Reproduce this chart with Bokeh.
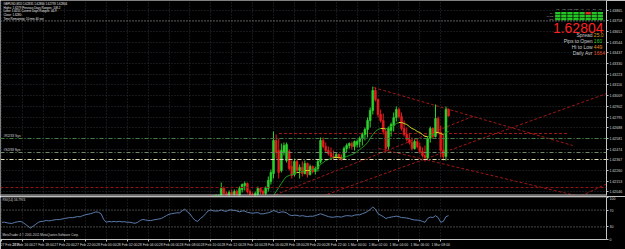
from bokeh.plotting import figure
from bokeh.models import (Range1d, FixedTicker, LinearAxis, Span, Label,
                          ColumnDataSource, NumeralTickFormatter)
from bokeh.layouts import column
from bokeh.embed import file_html
from bokeh.resources import INLINE
from bokeh.core.properties import value

# ---------------------------------------------------------------- data
header_lines = [
    "GBPUSD,M15  1.62835 1.62860 1.62793 1.62804",
    "Highs: 1.6279  Previous Days Ranges: 108.2",
    "Lows: 1.6251  Current Days Ranges: 44.9",
    "Close: 1.6280",
    "Time Remaining: 10 min 40 sec",
]

first_bar = 80
opens = [1.6196, 1.6193, 1.6197, 1.6199, 1.6200, 1.6208, 1.6203, 1.6199, 1.6204, 1.6202,
         1.6205, 1.6201, 1.6207, 1.6211, 1.6213, 1.6205, 1.6202, 1.6199, 1.6202, 1.6208,
         1.6205, 1.6203, 1.6208, 1.6215, 1.6223, 1.6256, 1.6246, 1.6226, 1.6244, 1.6236,
         1.6245, 1.6230, 1.6222, 1.6235, 1.6226, 1.6229, 1.6223, 1.6233, 1.6222, 1.6230,
         1.6225, 1.6228, 1.6235, 1.6256, 1.6250, 1.6246, 1.6243, 1.6240, 1.6239, 1.6242,
         1.6239, 1.6238, 1.6248, 1.6251, 1.6253, 1.6250, 1.6252, 1.6255, 1.6258, 1.6262,
         1.6267, 1.6276, 1.6286, 1.6306, 1.6297, 1.6282, 1.6276, 1.6265, 1.6250, 1.6266,
         1.6271, 1.6279, 1.6287, 1.6280, 1.6268, 1.6262, 1.6257, 1.6254, 1.6248, 1.6255,
         1.6250, 1.6245, 1.6241, 1.6239, 1.6258, 1.6268, 1.6260, 1.6278, 1.6264, 1.6246,
         1.6240, 1.6287]
highs = [1.6198, 1.6199, 1.6202, 1.6202, 1.6214, 1.6210, 1.6205, 1.6206, 1.6207, 1.6207,
         1.6207, 1.6210, 1.6213, 1.6215, 1.6214, 1.6207, 1.6204, 1.6205, 1.6210, 1.6209,
         1.6207, 1.6210, 1.6220, 1.6227, 1.6265, 1.6262, 1.6258, 1.6253, 1.6254, 1.6254,
         1.6247, 1.6236, 1.6238, 1.6237, 1.6232, 1.6235, 1.6236, 1.6234, 1.6232, 1.6231,
         1.6230, 1.6237, 1.6259, 1.6259, 1.6254, 1.6250, 1.6249, 1.6246, 1.6244, 1.6243,
         1.6242, 1.6250, 1.6253, 1.6254, 1.6255, 1.6256, 1.6257, 1.6260, 1.6264, 1.6269,
         1.6279, 1.6289, 1.6310, 1.6309, 1.6298, 1.6287, 1.6283, 1.6267, 1.6270, 1.6274,
         1.6284, 1.6290, 1.6289, 1.6284, 1.6276, 1.6269, 1.6263, 1.6259, 1.6257, 1.6258,
         1.6254, 1.6249, 1.6251, 1.6260, 1.6270, 1.6269, 1.6292, 1.6280, 1.6271, 1.6263,
         1.6290, 1.6288]
lows = [1.6191, 1.6192, 1.6195, 1.6196, 1.6199, 1.6200, 1.6197, 1.6197, 1.6199, 1.6200,
        1.6199, 1.6200, 1.6204, 1.6206, 1.6203, 1.6199, 1.6196, 1.6197, 1.6200, 1.6202,
        1.6201, 1.6201, 1.6205, 1.6212, 1.6218, 1.6238, 1.6218, 1.6224, 1.6241, 1.6234,
        1.6226, 1.6218, 1.6220, 1.6223, 1.6218, 1.6220, 1.6222, 1.6219, 1.6221, 1.6223,
        1.6222, 1.6225, 1.6233, 1.6248, 1.6244, 1.6241, 1.6238, 1.6237, 1.6238, 1.6237,
        1.6236, 1.6237, 1.6244, 1.6248, 1.6247, 1.6246, 1.6249, 1.6249, 1.6251, 1.6256,
        1.6259, 1.6269, 1.6282, 1.6295, 1.6279, 1.6274, 1.6262, 1.6244, 1.6247, 1.6260,
        1.6265, 1.6275, 1.6278, 1.6266, 1.6260, 1.6255, 1.6252, 1.6246, 1.6247, 1.6248,
        1.6243, 1.6239, 1.6235, 1.6237, 1.6254, 1.6258, 1.6259, 1.6262, 1.6239, 1.6236,
        1.6236, 1.6280]
closes = [1.6193, 1.6197, 1.6199, 1.6200, 1.6208, 1.6203, 1.6199, 1.6204, 1.6202, 1.6205,
          1.6201, 1.6208, 1.6212, 1.6213, 1.6205, 1.6202, 1.6199, 1.6203, 1.6208, 1.6205,
          1.6203, 1.6209, 1.6216, 1.6224, 1.6256, 1.6244, 1.6224, 1.6246, 1.6251, 1.6252,
          1.6228, 1.6221, 1.6235, 1.6226, 1.6229, 1.6223, 1.6233, 1.6222, 1.6230, 1.6225,
          1.6228, 1.6235, 1.6256, 1.6250, 1.6246, 1.6243, 1.6240, 1.6239, 1.6242, 1.6239,
          1.6238, 1.6248, 1.6251, 1.6253, 1.6250, 1.6255, 1.6255, 1.6258, 1.6262, 1.6267,
          1.6276, 1.6286, 1.6306, 1.6297, 1.6282, 1.6276, 1.6265, 1.6248, 1.6268, 1.6272,
          1.6279, 1.6287, 1.6280, 1.6268, 1.6262, 1.6257, 1.6254, 1.6248, 1.6255, 1.6250,
          1.6245, 1.6241, 1.6239, 1.6258, 1.6268, 1.6260, 1.6278, 1.6264, 1.6246, 1.6240,
          1.6287, 1.62804]

ma_first_bar = 102
ma_values = [1.6196, 1.6198, 1.6201, 1.6205, 1.6209, 1.6213, 1.6217, 1.6220, 1.6221, 1.6222,
             1.6223, 1.6224, 1.6224, 1.6225, 1.6226, 1.6226, 1.6226, 1.6227, 1.6228, 1.6229,
             1.6232, 1.6234, 1.6236, 1.6237, 1.6238, 1.6239, 1.6239, 1.6239, 1.62385, 1.6239,
             1.6240, 1.6241, 1.6242, 1.6243, 1.6245, 1.6247, 1.6249, 1.6251, 1.6254, 1.6258,
             1.6262, 1.6265, 1.6267, 1.6268, 1.6268, 1.62675, 1.6269, 1.6270, 1.6271, 1.6273,
             1.6274, 1.6274, 1.6273, 1.6272, 1.6270, 1.6268, 1.6267, 1.6265, 1.6264, 1.6262,
             1.6260, 1.6260, 1.6261, 1.6262, 1.6264, 1.6264, 1.6263, 1.6262, 1.6264, 1.6265]

rsi_values = [40.9, 41.2, 39.7, 38.6, 38.4, 40.9, 42.0, 43.1, 40.9, 36.3,
              31.8, 27.2, 31.8, 36.3, 40.9, 43.1, 43.4, 45.4, 44.3, 45.4,
              46.5, 47.7, 47.2, 48.8, 49.9, 51.1, 52.2, 51.8, 53.3, 54.5,
              54.1, 56.8, 59.0, 60.2, 61.3, 63.6, 65.8, 64.7, 61.3, 47.7,
              40.9, 43.1, 42.0, 43.1, 42.0, 43.1, 42.0, 42.3, 40.9, 41.2,
              39.7, 38.6, 40.9, 45.4, 47.7, 46.5, 45.4, 45.0, 46.5, 47.7,
              48.8, 49.9, 53.3, 56.8, 60.2, 61.3, 62.4, 63.6, 63.2, 68.1,
              72.6, 65.8, 61.3, 52.2, 45.4, 43.1, 49.9, 54.5, 61.3, 68.1,
              70.4, 68.1, 67.7, 68.1, 70.4, 68.1, 67.0, 70.4, 70.1, 69.2,
              68.1, 65.8, 68.1, 67.6, 64.7, 63.6, 62.4, 63.6, 63.9, 61.3,
              61.0, 62.4, 63.6, 65.8, 69.2, 67.0, 63.6, 65.8, 65.5, 63.6,
              59.0, 56.8, 57.9, 57.6, 55.6, 56.8, 55.6, 54.5, 55.6, 55.3,
              56.8, 59.0, 61.3, 59.0, 56.8, 54.5, 53.3, 53.0, 54.5, 54.2,
              53.3, 55.6, 56.8, 56.5, 55.6, 57.9, 59.0, 58.7, 61.3, 63.6,
              67.0, 71.5, 77.2, 72.6, 61.3, 57.9, 54.5, 49.9, 52.2, 53.3,
              54.5, 55.6, 54.5, 52.2, 51.9, 51.1, 49.9, 47.7, 46.5, 46.2,
              45.4, 43.1, 40.9, 49.9, 53.3, 52.2, 56.8, 52.2, 40.9, 43.1,
              54.5, 56.8]
rsi_title = "RSI(14) 56.7974"

time_tick_bars = [0, 8, 16, 24, 32, 40, 48, 56, 64, 72, 80,
                  88, 96, 104, 112, 120, 128, 136, 144, 152, 160, 168]
time_labels = ["27 Feb 2011", "27 Feb 16:00", "27 Feb 18:00", "27 Feb 20:00", "27 Feb 22:00",
               "28 Feb 00:00", "28 Feb 02:00", "28 Feb 04:00", "28 Feb 06:00", "28 Feb 08:00",
               "28 Feb 10:00", "28 Feb 12:00", "28 Feb 14:00", "28 Feb 16:00", "28 Feb 18:00",
               "28 Feb 20:00", "28 Feb 22:00", "1 Mar 00:00", "1 Mar 02:00", "1 Mar 04:00",
               "1 Mar 06:00", "1 Mar 08:00"]

price_ticks = [1.63865, 1.63758, 1.63651, 1.63544, 1.63437, 1.63330, 1.63223, 1.63116,
               1.63009, 1.62902, 1.62795, 1.62688, 1.62581, 1.62474, 1.62367, 1.62260,
               1.62153, 1.62046]
rsi_ticks = [0, 30, 70, 100]
rsi_levels = [70, 30]

level_prices = [1.63755, 1.6258, 1.6244, 1.6237, 1.6209]
level_names = ["", "#R2/33 Sys", "#S2/33 Sys", "", ""]

# drawn trend lines: (bar, price) -> (bar, price)
tl_x0 = [142.3, 99.3, 113.8, 144.2, 216.6, 106.1]
tl_y0 = [1.6309, 1.6196, 1.6192, 1.6248, 1.6194, 1.6263]
tl_x1 = [218.5, 181.2, 232.6, 219.6, 232.6, 216.6]
tl_y1 = [1.6251, 1.6281, 1.6304, 1.6201, 1.6214, 1.6263]

axis_marks = [1.63755, 1.62804, 1.6237]
axis_mark_texts = ["1.63755", "1.62804", "1.62370"]

tf_labels = ["M1", "M5", "M15", "M30", "H1", "H4", "D1", "W1"]
row_labels = ["MA", "MACD", "RSI"]
signals = [[1, 1, 1, 1, 1, 0, 1, 1],
           [1, 1, 1, 1, 1, 1, 1, 1],
           [1, 1, 1, 1, 1, 1, 1, 1]]
big_price = "1.62804"
stat_names = ["Spread", "Pips to Open", "Hi to Low", "Daily Avr"]
stat_values = ["25.0", "160", "449", "1664"]
copyright_text = "MetaTrader 4 \u00a9 2001-2011 MetaQuotes Software Corp."

# ---------------------------------------------------------------- layout / style
FONT = "Liberation Sans"
W = 625
R_BORDER = 16
FRAME_W = W - R_BORDER
PX_BAR = 2.6255
X_START = -0.5
X_END = X_START + FRAME_W / PX_BAR
MAIN_H = 196
MAIN_FRAME_H = 195
PRICE_TOP = 1.6396
PRICE_PER_PX = 0.0001
PRICE_BOTTOM = PRICE_TOP - MAIN_FRAME_H * PRICE_PER_PX
RSI_H = 53
RSI_TOP_PX, RSI_BOT_PX = 197, 241

BULL, BEAR = "#2fd12f", "#e41c1c"
MA_UP, MA_DN = "#1f9a1f", "#d2d22a"
GRID = "#2b3136"
AXIS = "#c4c4c4"
TXT = "#d8d8d8"
TREND = "#a01717"


def X(px):
    return X_START + px / PX_BAR


def Y(py):
    return PRICE_TOP - py * PRICE_PER_PX


def RY(py):
    return (RSI_BOT_PX - py) / (RSI_BOT_PX - RSI_TOP_PX) * 100


def style_axis(ax):
    ax.axis_line_color = AXIS
    ax.axis_line_width = 1
    ax.major_tick_line_color = AXIS
    ax.major_tick_out = 2
    ax.major_tick_in = 0
    ax.minor_tick_line_color = None
    ax.major_label_text_color = TXT
    ax.major_label_text_font = FONT
    ax.major_label_text_font_size = "3.5px"
    ax.major_label_standoff = 1


xr = Range1d(X_START, X_END)

# ---------------------------------------------------------------- main window
p1 = figure(width=W, height=MAIN_H, x_range=xr, y_range=Range1d(PRICE_BOTTOM, PRICE_TOP),
            output_backend="svg", toolbar_location=None,
            x_axis_location=None, y_axis_location=None,
            background_fill_color="black", border_fill_color="black",
            outline_line_color=None, min_border_left=0, min_border_right=R_BORDER,
            min_border_top=0, min_border_bottom=1)
p1.xgrid.ticker = FixedTicker(ticks=time_tick_bars)
p1.ygrid.ticker = FixedTicker(ticks=price_ticks)
for g in (p1.xgrid, p1.ygrid):
    g.grid_line_color = GRID
    g.grid_line_dash = "1 2"

pax = LinearAxis(ticker=FixedTicker(ticks=price_ticks),
                 formatter=NumeralTickFormatter(format="0.00000"))
style_axis(pax)
p1.add_layout(pax, "right")

# horizontal levels
level_styles = [("#9a9a9a", "1 2"), ("#3f7d3f", "4 2 1 2"), ("#6e8a6e", "4 2 1 2"),
                ("#e2e2b4", "4 2 1 2"), ("#8e1414", "3 2")]
for lv, (col, dash) in zip(level_prices, level_styles):
    p1.add_layout(Span(location=lv, dimension="width", line_color=col,
                       line_dash=dash, line_width=1))
p1.text(x=[X(3)] * 2, y=[level_prices[1] + 2.3 * PRICE_PER_PX, level_prices[2] + 2.3 * PRICE_PER_PX],
        text=level_names[1:3], text_font=value(FONT), text_font_size="3.3px",
        text_color=TXT, text_baseline="middle", text_align="left")

# trend lines
p1.segment(x0=tl_x0, y0=tl_y0, x1=tl_x1, y1=tl_y1, line_color=TREND,
           line_dash="3 2", line_width=1)

# candles
bars = list(range(first_bar, first_bar + len(opens)))
cols = [BULL if c >= o else BEAR for o, c in zip(opens, closes)]
src = ColumnDataSource(dict(x=bars, h=highs, l=lows,
                            top=[max(o, c) for o, c in zip(opens, closes)],
                            bottom=[min(o, c) for o, c in zip(opens, closes)],
                            color=cols))
p1.segment(x0="x", y0="l", x1="x", y1="h", line_color="color", line_width=1, source=src)
p1.vbar(x="x", width=0.72, top="top", bottom="bottom", fill_color="color",
        line_color="color", line_width=0.6, source=src)

# moving average (two-colour)
ma_x = list(range(ma_first_bar, ma_first_bar + len(ma_values)))
ma_cols = [MA_UP if b > a else MA_DN for a, b in zip(ma_values[:-1], ma_values[1:])]
p1.segment(x0=ma_x[:-1], y0=ma_values[:-1], x1=ma_x[1:], y1=ma_values[1:],
           line_color=ma_cols, line_width=1)

# header text
p1.text(x=[X(3)] * len(header_lines), y=[Y(3 + 3.7 * k) for k in range(len(header_lines))],
        text=header_lines, text_font=value(FONT), text_font_size="2.9px",
        text_color="#e8e8e8", text_baseline="middle", text_align="left")

# info panel: signal matrix
cx, cy, cc = [], [], []
for r, row in enumerate(signals):
    for k, s in enumerate(row):
        cx.append(X(557 + 6.1 * (k + 0.5)))
        cy.append(Y(12.8 + 2.9 * r))
        cc.append("#25c425" if s else "#dd2a2a")
p1.rect(x=cx, y=cy, width=5.3, height=2.4, width_units="screen", height_units="screen",
        fill_color=cc, line_color=None)
p1.text(x=[X(557 + 6.1 * (k + 0.5)) for k in range(len(tf_labels))],
        y=[Y(9.3)] * len(tf_labels), text=tf_labels, text_font=value(FONT),
        text_font_size="2.4px", text_color="#bcbcbc", text_align="center",
        text_baseline="middle")
p1.text(x=[X(555.5)] * len(row_labels), y=[Y(12.8 + 2.9 * r) for r in range(len(row_labels))],
        text=row_labels, text_font=value(FONT), text_font_size="2.2px",
        text_color="#bcbcbc", text_align="right", text_baseline="middle")

p1.text(x=[X(606)], y=[Y(27.5)], text=[big_price], text_font=value(FONT),
        text_font_size="14px", text_color="#ff2222", text_align="right",
        text_baseline="middle")
sy = [Y(34.5 + 6 * k) for k in range(len(stat_names))]
p1.text(x=[X(595)] * len(stat_names), y=sy, text=stat_names, text_font=value(FONT),
        text_font_size="5px", text_color="#c8c8c8", text_align="right",
        text_baseline="middle")
p1.text(x=[X(596.3)] * len(stat_values), y=sy, text=stat_values, text_font=value(FONT),
        text_font_size="5px", text_color=["#d9a21b", "#2fc62f", "#e08a25", "#e2502c"],
        text_align="left", text_baseline="middle")

# highlighted price labels on the axis
for pr, t, bg in zip(axis_marks, axis_mark_texts, ["#25b525", "#ffffff", "#e3e300"]):
    p1.add_layout(Label(x=X_END, y=pr, x_offset=1, text=t, text_font=FONT,
                        text_font_size="3.5px", text_color="black", text_baseline="middle",
                        background_fill_color=bg))

# window separator
p1.add_layout(Span(location=PRICE_BOTTOM + 0.4 * PRICE_PER_PX, dimension="width",
                   line_color=AXIS, line_width=1.3))

# ---------------------------------------------------------------- RSI window
p2 = figure(width=W, height=RSI_H, x_range=xr, y_range=Range1d(0, 100),
            output_backend="svg", toolbar_location=None,
            x_axis_location=None, y_axis_location=None,
            background_fill_color="black", border_fill_color="black",
            outline_line_color=None, min_border_left=0, min_border_right=R_BORDER,
            min_border_top=1, min_border_bottom=8)
p2.xgrid.ticker = FixedTicker(ticks=time_tick_bars)
p2.xgrid.grid_line_color = GRID
p2.xgrid.grid_line_dash = "1 2"
p2.ygrid.visible = False

bax = LinearAxis(ticker=FixedTicker(ticks=time_tick_bars),
                 major_label_overrides={b: t for b, t in zip(time_tick_bars, time_labels)})
style_axis(bax)
bax.major_label_text_align = "left"
p2.add_layout(bax, "below")
rax = LinearAxis(ticker=FixedTicker(ticks=rsi_ticks))
style_axis(rax)
p2.add_layout(rax, "right")

for lv in rsi_levels:
    p2.add_layout(Span(location=lv, dimension="width", line_color="#8a8a8a",
                       line_dash="1 2", line_width=1))
p2.line(x=list(range(len(rsi_values))), y=rsi_values, line_color="#5a7cae", line_width=1)
p2.text(x=[X(2), X(2)], y=[RY(199.5), RY(236.5)], text=[rsi_title, copyright_text],
        text_font=value(FONT), text_font_size="3.1px", text_color=TXT,
        text_baseline="middle", text_align="left")

layout = column(p1, p2)
open("out.html", "w").write(file_html(layout, INLINE))
